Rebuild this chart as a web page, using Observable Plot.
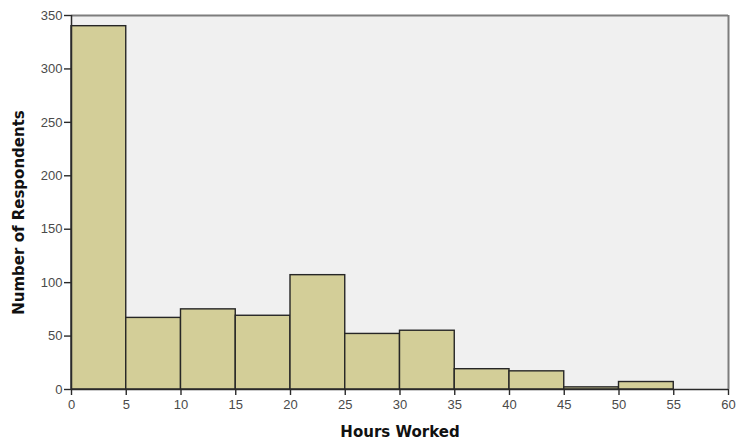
<!DOCTYPE html>
<html>
<head>
<meta charset="utf-8">
<script src="https://cdn.jsdelivr.net/npm/d3@7"></script>
<script src="https://cdn.jsdelivr.net/npm/@observablehq/plot@0.6"></script>
<style>
  html, body { margin: 0; padding: 0; background: #fff; }
  #chart svg { display: block; }
</style>
</head>
<body>
<div id="chart"></div>
<script>
const binStarts = [0, 5, 10, 15, 20, 25, 30, 35, 40, 45, 50, 55];
const binEnds   = [5, 10, 15, 20, 25, 30, 35, 40, 45, 50, 55, 60];
const counts    = [340, 67, 75, 69, 107, 52, 55, 19, 17, 2, 7, 0];
const xTicks = [0, 5, 10, 15, 20, 25, 30, 35, 40, 45, 50, 55, 60];
const yTicks = [0, 50, 100, 150, 200, 250, 300, 350];
const xLabel = "Hours Worked";
const yLabel = "Number of Respondents";

const bins = binStarts.map((s, i) => ({x1: s, x2: binEnds[i], y: counts[i]}));

const chart = Plot.plot({
  width: 736,
  height: 440,
  marginLeft: 71,
  marginRight: 8,
  marginTop: 15,
  marginBottom: 51,
  style: {fontFamily: "'Liberation Sans', Arial, sans-serif", fontSize: "13px", background: "#fff"},
  x: {domain: [0, 60], ticks: xTicks},
  y: {domain: [0, 350], ticks: yTicks},
  marks: [
    Plot.frame({fill: "#f0f0f0", stroke: null}),
    Plot.ruleY([350], {stroke: "#7d7d7d", strokeWidth: 2}),
    Plot.ruleX([60], {stroke: "#7d7d7d", strokeWidth: 2}),
    Plot.rectY(bins, {x1: "x1", x2: "x2", y: "y", fill: "#d3ce98", stroke: "#262626", strokeWidth: 1.4, inset: 0}),
    Plot.ruleX([0], {stroke: "#2a2a2a", strokeWidth: 1.5}),
    Plot.ruleY([0], {stroke: "#2a2a2a", strokeWidth: 1.5}),
    Plot.axisX({ticks: xTicks, tickSize: 6, tickPadding: 4, label: null, color: "#4a4a4a", stroke: "#2a2a2a", strokeWidth: 1.4, fontSize: 13}),
    Plot.axisY({ticks: yTicks, tickSize: 7, tickPadding: 2, label: null, color: "#4a4a4a", stroke: "#2a2a2a", strokeWidth: 1.4, fontSize: 13}),
    Plot.text([xLabel], {frameAnchor: "bottom", dy: 47, text: d => d, fontWeight: "bold", fontSize: 15, fontFamily: "'DejaVu Sans', Verdana, sans-serif", fill: "#111", lineAnchor: "bottom", textAnchor: "middle"}),
    Plot.text([yLabel], {frameAnchor: "left", dx: -52, dy: 10, rotate: -90, text: d => d, fontWeight: "bold", fontSize: 15, fontFamily: "'DejaVu Sans', Verdana, sans-serif", fill: "#111", lineAnchor: "middle", textAnchor: "middle"})
  ]
});
document.getElementById("chart").appendChild(chart);
</script>
</body>
</html>
